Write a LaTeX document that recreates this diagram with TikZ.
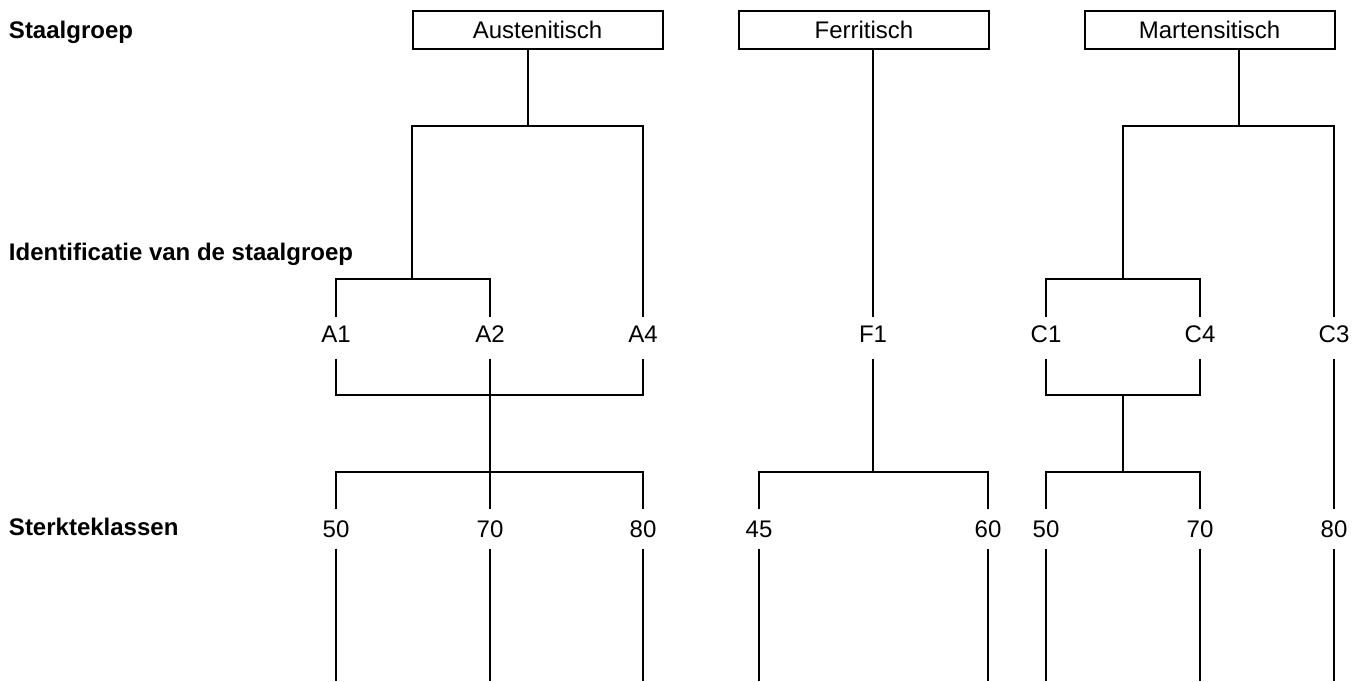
\documentclass[tikz,border=0pt]{standalone}
\usepackage{fontspec}
\setmainfont{Liberation Sans}
\begin{document}
\begin{tikzpicture}[x=0.5pt,y=-0.5pt,line width=1pt,
  every node/.style={font=\fontsize{12}{14}\selectfont},
  groep/.style={draw,minimum width=125pt,minimum height=19pt,inner sep=0pt},
  code/.style={anchor=base,inner sep=0pt,text height=12.5pt,text depth=7.5pt},
  klasse/.style={anchor=base,inner sep=0pt,text height=13.5pt,text depth=5.3pt},
  rij/.style={anchor=base west,inner sep=0pt,font=\fontsize{12}{14}\selectfont\bfseries}]
\useasboundingbox (0,0) rectangle (1353,681);
% Row titles
\node[rij] (r-groep) at (8,38.6) {Staalgroep};
\node[rij] (r-ident) at (8,260.6) {Identificatie van de staalgroep};
\node[rij] (r-klas) at (8,535.6) {Sterkteklassen};
% Austenitisch
\node[groep] (aus) at (537.5,30) {Austenitisch};
\node[code] (a1) at (336,342.6) {A1};
\node[code] (a2) at (490,342.6) {A2};
\node[code] (a4) at (643,342.6) {A4};
\node[klasse] (a50) at (336,537) {50};
\node[klasse] (a70) at (490,537) {70};
\node[klasse] (a80) at (643,537) {80};
\coordinate (aus-knoop) at (528,126);
\coordinate (a12) at (412,279);
\coordinate (a-samen) at (490,395);
\coordinate (a-klas) at (490,471.7);
\draw (aus.south -| aus-knoop) -- (aus-knoop);
\draw (a12) |- (aus-knoop) -| (a4.north);
\draw (a1.north) |- (a12) -| (a2.north);
\draw (a1.south) |- (a-samen) -| (a4.south);
\draw (a2.south) -- (a70.north);
\draw (a50.north) |- (a-klas) -| (a80.north);
% Ferritisch
\node[groep] (fer) at (864,30) {Ferritisch};
\node[code] (f1) at (873,342.6) {F1};
\node[klasse] (f45) at (759,537) {45};
\node[klasse] (f60) at (988,537) {60};
\coordinate (f-klas) at (873,471.7);
\draw (fer.south -| f1) -- (f1.north);
\draw (f1.south) -- (f-klas);
\draw (f45.north) |- (f-klas) -| (f60.north);
% Martensitisch
\node[groep] (mar) at (1209.5,30) {Martensitisch};
\node[code] (c1) at (1046,342.6) {C1};
\node[code] (c4) at (1200,342.6) {C4};
\node[code] (c3) at (1334,342.6) {C3};
\node[klasse] (m50) at (1046,537) {50};
\node[klasse] (m70) at (1200,537) {70};
\node[klasse] (m80) at (1334,537) {80};
\coordinate (mar-knoop) at (1239,126);
\coordinate (c14) at (1123,279);
\coordinate (c-samen) at (1123,395);
\coordinate (m-klas) at (1123,471.7);
\draw (mar.south -| mar-knoop) -- (mar-knoop);
\draw (c14) |- (mar-knoop) -| (c3.north);
\draw (c1.north) |- (c14) -| (c4.north);
\draw (c1.south) |- (c-samen) -| (c4.south);
\draw (c-samen) -- (m-klas);
\draw (m50.north) |- (m-klas) -| (m70.north);
\draw (c3.south) -- (m80.north);
% Lines to the bottom edge
\coordinate (onder) at (0,681);
\foreach \k in {a50,a70,a80,f45,f60,m50,m70,m80} {
  \draw (\k.south) -- (\k.south |- onder);
}
\end{tikzpicture}
\end{document}
